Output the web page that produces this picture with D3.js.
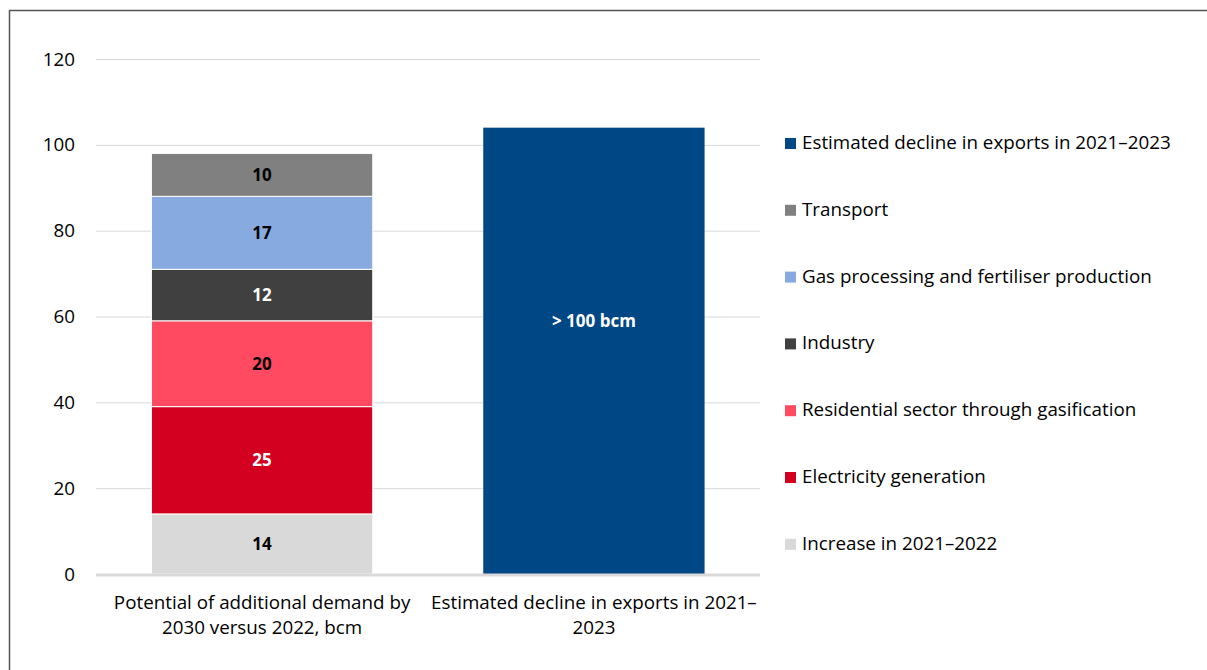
<!DOCTYPE html>
<html>
<head>
<meta charset="utf-8">
<script src="https://cdn.jsdelivr.net/npm/d3@7"></script>
<style>
  body { margin: 0; background: #fff; }
  svg { display: block; font-family: "Open Sans", sans-serif; }
</style>
</head>
<body>
<div id="chart"></div>
<script>
// categories (x axis), two lines each
var categories = ["demand", "exports"];
var categoryLabels = [
    ["Potential of additional demand by", "2030 versus 2022, bcm"],
    ["Estimated decline in exports in 2021–", "2023"]
];

// stacked series of the first bar, bottom to top
var seriesNames = ["Increase in 2021–2022", "Electricity generation", "Residential sector through gasification",
    "Industry", "Gas processing and fertiliser production", "Transport"];
var seriesValues = [14, 25, 20, 12, 17, 10];
var seriesColors = ["#d9d9d9", "#d40020", "#ff4a62", "#404040", "#87abe0", "#808080"];
var seriesTextColors = ["#000", "#fff", "#000", "#fff", "#000", "#000"];

// second bar
var exportName = "Estimated decline in exports in 2021–2023";
var exportValue = 104;
var exportLabel = "> 100 bcm";
var exportColor = "#004785";

var yTicks = [0, 20, 40, 60, 80, 100, 120];

// legend order (top to bottom)
var legendNames = [exportName, "Transport", "Gas processing and fertiliser production", "Industry",
    "Residential sector through gasification", "Electricity generation", "Increase in 2021–2022"];
var legendColors = [exportColor, "#808080", "#87abe0", "#404040", "#ff4a62", "#d40020", "#d9d9d9"];

var width = 1207, height = 670;
var fontSize = 18.8, labelSize = 17;

var svg = d3.select("#chart").append("svg")
    .attr("width", width)
    .attr("height", height);

// cadre
svg.append("rect")
    .attr("x", 9.5).attr("y", 10.5)
    .attr("width", 1400).attr("height", 1000)
    .attr("fill", "none")
    .attr("stroke", "#555")
    .attr("stroke-width", 1.5);

var x = d3.scaleBand()
    .domain(categories)
    .range([96, 760])
    .paddingInner(0.333)
    .paddingOuter(0.167);

var y = d3.scaleLinear()
    .domain([0, 120])
    .range([574, 59]);

// grille
svg.append("g")
    .selectAll("line")
    .data(yTicks.filter(function (d) { return d > 0; }))
    .enter().append("line")
    .attr("x1", 96).attr("x2", 760)
    .attr("y1", function (d) { return y(d) + 0.5; })
    .attr("y2", function (d) { return y(d) + 0.5; })
    .attr("stroke", "#d9d9d9")
    .attr("stroke-width", 1);

// axe y (labels only)
var yAxis = svg.append("g")
    .attr("transform", "translate(96,0)")
    .call(d3.axisLeft(y).tickValues(yTicks).tickSize(0).tickPadding(21));
yAxis.select(".domain").remove();
yAxis.selectAll("text")
    .attr("font-family", "Open Sans, sans-serif")
    .attr("font-size", fontSize)
    .attr("fill", "#000");

// barres empilées
var stack = [];
var cum = 0;
seriesValues.forEach(function (v, i) {
    stack.push({ name: seriesNames[i], y0: cum, y1: cum + v, value: v, color: seriesColors[i], text: seriesTextColors[i] });
    cum += v;
});

var seg = svg.append("g").selectAll("g")
    .data(stack)
    .enter().append("g");

seg.append("rect")
    .attr("x", x("demand"))
    .attr("width", x.bandwidth())
    .attr("y", function (d) { return y(d.y1); })
    .attr("height", function (d) { return y(d.y0) - y(d.y1); })
    .attr("fill", function (d) { return d.color; })
    .attr("stroke", "#fff")
    .attr("stroke-width", 1);

seg.append("text")
    .attr("x", x("demand") + x.bandwidth() / 2)
    .attr("y", function (d) { return (y(d.y0) + y(d.y1)) / 2; })
    .attr("dy", "0.35em")
    .attr("text-anchor", "middle")
    .attr("font-weight", "bold")
    .attr("font-size", labelSize)
    .attr("fill", function (d) { return d.text; })
    .text(function (d) { return d.value; });

// barre exportations
svg.append("rect")
    .attr("x", x("exports"))
    .attr("width", x.bandwidth())
    .attr("y", y(exportValue))
    .attr("height", y(0) - y(exportValue))
    .attr("fill", exportColor);

svg.append("text")
    .attr("x", x("exports") + x.bandwidth() / 2)
    .attr("y", y(59))
    .attr("dy", "0.35em")
    .attr("text-anchor", "middle")
    .attr("font-weight", "bold")
    .attr("font-size", labelSize)
    .attr("fill", "#fff")
    .text(exportLabel);

// ligne de base
svg.append("line")
    .attr("x1", 96).attr("x2", 760)
    .attr("y1", y(0) + 1).attr("y2", y(0) + 1)
    .attr("stroke", "#d9d9d9")
    .attr("stroke-width", 3);

// labels des catégories
categories.forEach(function (c, i) {
    var t = svg.append("text")
        .attr("text-anchor", "middle")
        .attr("font-size", fontSize)
        .attr("fill", "#000");
    categoryLabels[i].forEach(function (line, j) {
        t.append("tspan")
            .attr("x", x(c) + x.bandwidth() / 2)
            .attr("y", 609 + j * 25)
            .text(line);
    });
});

// légende
var legend = svg.append("g").selectAll("g")
    .data(legendNames)
    .enter().append("g")
    .attr("transform", function (d, i) { return "translate(785," + (149 + i * 66.8) + ")"; });

legend.append("rect")
    .attr("x", 0).attr("y", -11)
    .attr("width", 11).attr("height", 11)
    .attr("fill", function (d, i) { return legendColors[i]; });

legend.append("text")
    .attr("x", 17)
    .attr("y", 0)
    .attr("font-size", fontSize)
    .attr("fill", "#000")
    .text(function (d) { return d; });
</script>
</body>
</html>
